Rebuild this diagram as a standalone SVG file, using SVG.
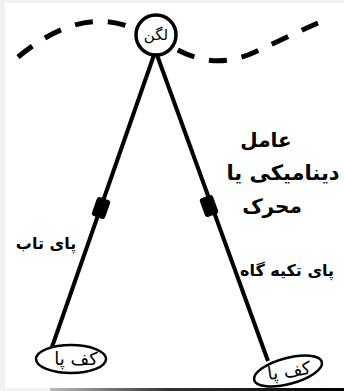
<svg xmlns="http://www.w3.org/2000/svg" width="344" height="391" viewBox="0 0 344 391">
<defs>
<style>
.line{stroke:#000;fill:none;stroke-linecap:butt}
.dash{stroke:#000;fill:none;stroke-width:5;stroke-dasharray:18 15}
.txt{font-family:"DejaVu Sans",sans-serif;fill:#000;text-anchor:middle}
.b{font-weight:bold}
.foot{fill:#fff;stroke:#000;stroke-width:2.5}
</style>
<linearGradient id="bl" x1="0" y1="0" x2="1" y2="0">
<stop offset="0" stop-color="#bbb"/>
<stop offset="0.4" stop-color="#333"/>
<stop offset="1" stop-color="#000"/>
</linearGradient>
</defs>
<rect x="0" y="0" width="344" height="391" fill="#f1f1f1"/>
<rect x="5" y="3" width="339" height="385" fill="#fff"/>
<rect x="50" y="388" width="294" height="3" fill="url(#bl)"/>
<g id="connectors">
<path class="dash" d="M18,57 C45,35 85,10 130,27"/>
<path class="dash" d="M176,49 C200,62 225,66 255,52 C275,43 295,33 318,23" stroke-dashoffset="-2"/>
<line class="line" stroke-width="4" x1="154" y1="55" x2="52" y2="347"/>
<line class="line" stroke-width="4" x1="157" y1="55" x2="268" y2="361"/>
</g>
<g id="pelvis">
<circle cx="156" cy="35" r="20" fill="#fff" stroke="#000" stroke-width="3.5"/>
<text class="txt" x="156" y="40" font-size="15">لگن</text>
</g>
<g id="knee-left">
<rect x="-7" y="-10" width="14" height="20" rx="3" transform="translate(101,208) rotate(19.4)" fill="#000"/>
</g>
<g id="knee-right">
<rect x="-7" y="-10" width="14" height="20" rx="3" transform="translate(209,206) rotate(-20)" fill="#000"/>
</g>
<g id="foot-left">
<ellipse class="foot" cx="71" cy="359" rx="35" ry="14"/>
<text class="txt" x="76" y="365" font-size="18">کف پا</text>
</g>
<g id="foot-right">
<ellipse class="foot" cx="288" cy="371" rx="35" ry="13" transform="rotate(-15 288 371)"/>
<text class="txt" x="289" y="377" font-size="18" transform="rotate(-8 289 371)">کف پا</text>
</g>
<g id="label-swing">
<text class="txt b" x="46" y="249" font-size="16">پای تاب</text>
</g>
<g id="label-stance">
<text class="txt b" x="287" y="276" font-size="16">پای تکیه گاه</text>
</g>
<g id="label-driver">
<text class="txt b" x="266" y="147" font-size="20">عامل</text>
<text class="txt b" x="283" y="180" font-size="21">دینامیکی یا</text>
<text class="txt b" x="272" y="213" font-size="20">محرک</text>
</g>
</svg>
